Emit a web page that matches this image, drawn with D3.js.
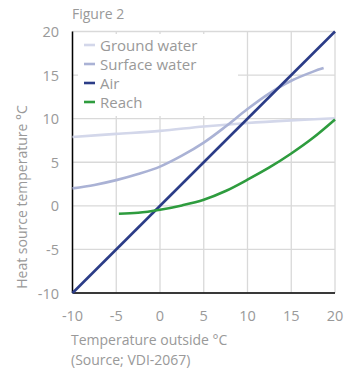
<!DOCTYPE html>
<meta charset="utf-8">
<script src="https://d3js.org/d3.v7.min.js"></script>
<style>
  body { margin: 0; background: #fff; }
  text { font-family: "Open Sans", sans-serif; fill: #999; }
</style>
<div id="chart"></div>
<script>
// data
const xTicks = [-10, -5, 0, 5, 10, 15, 20];
const yTicks = [-10, -5, 0, 5, 10, 15, 20];

const groundWater = [[-10, 7.9], [-5, 8.25], [0, 8.6], [5, 9.1], [10, 9.5], [15, 9.8], [20, 10.05]];
const surfaceWater = [[-10, 2.0], [-7.5, 2.4], [-5, 2.95], [-2.5, 3.65], [0, 4.5], [2.5, 5.75], [5, 7.25],
                      [7.5, 9.1], [10, 11.1], [12.5, 12.9], [15, 14.35], [17.5, 15.4], [18.7, 15.8]];
const air = [[-10, -10], [20, 20]];
const reach = [[-4.7, -0.9], [-2.5, -0.8], [0, -0.45], [2.5, 0.05], [5, 0.7], [7.5, 1.7], [10, 3.0],
               [12.5, 4.4], [15, 6.0], [17.5, 7.8], [20, 9.9]];

const series = [
  {name: "Ground water", values: groundWater, color: "#d3d7ea"},
  {name: "Surface water", values: surfaceWater, color: "#aab2d5"},
  {name: "Air", values: air, color: "#2b3c87"},
  {name: "Reach", values: reach, color: "#2e9c3e"}
];

const W = 357, H = 369;
const svg = d3.select("#chart").append("svg")
  .attr("width", W).attr("height", H);

const x = d3.scaleLinear().domain([-10, 20]).range([72.5, 335]);
const y = d3.scaleLinear().domain([-10, 20]).range([293, 31.5]);

// grid
svg.append("g").selectAll("line").data(xTicks).join("line")
  .attr("x1", d => x(d)).attr("x2", d => x(d))
  .attr("y1", y(20)).attr("y2", y(-10))
  .attr("stroke", "#d9d9d9").attr("stroke-width", 1.3);
svg.append("g").selectAll("line").data(yTicks).join("line")
  .attr("x1", x(-10)).attr("x2", x(20))
  .attr("y1", d => y(d)).attr("y2", d => y(d))
  .attr("stroke", "#d9d9d9").attr("stroke-width", 1.3);

// legend background hides the grid
svg.append("rect")
  .attr("x", 78).attr("y", 34).attr("width", 160).attr("height", 82)
  .attr("fill", "#fff");

// axes lines
svg.append("line")
  .attr("x1", x(-10)).attr("x2", x(-10)).attr("y1", y(20)).attr("y2", y(-10))
  .attr("stroke", "#000").attr("stroke-width", 1.5);
svg.append("line")
  .attr("x1", x(-10)).attr("x2", x(20)).attr("y1", y(-10)).attr("y2", y(-10))
  .attr("stroke", "#000").attr("stroke-width", 1.5);

// tick labels
svg.append("g").selectAll("text").data(yTicks).join("text")
  .attr("x", 59).attr("y", d => y(d))
  .attr("text-anchor", "end").attr("dominant-baseline", "central")
  .style("font-size", "14.5px")
  .text(d => d);
svg.append("g").selectAll("text").data(xTicks).join("text")
  .attr("x", d => x(d)).attr("y", 315)
  .attr("text-anchor", "middle").attr("dominant-baseline", "central")
  .style("font-size", "14.5px")
  .text(d => d);

// lines
const line = d3.line()
  .x(d => x(d[0])).y(d => y(d[1]))
  .curve(d3.curveCatmullRom);

svg.append("g").selectAll("path").data(series).join("path")
  .attr("d", d => line(d.values))
  .attr("fill", "none")
  .attr("stroke", d => d.color)
  .attr("stroke-width", 2.6);

// legend
const lg = svg.append("g").selectAll("g").data(series).join("g")
  .attr("transform", (d, i) => `translate(84, ${45 + i * 19})`);
lg.append("line")
  .attr("x1", 0).attr("x2", 11).attr("y1", 0).attr("y2", 0)
  .attr("stroke", d => d.color).attr("stroke-width", 2.6);
lg.append("text")
  .attr("x", 16).attr("y", 0)
  .attr("dominant-baseline", "central")
  .style("font-size", "15px")
  .text(d => d.name);

// titles
svg.append("text")
  .attr("x", 72).attr("y", 19)
  .style("font-size", "14px")
  .text("Figure 2");

svg.append("text")
  .attr("x", 71).attr("y", 345)
  .style("font-size", "14px")
  .text("Temperature outside °C");
svg.append("text")
  .attr("x", 71).attr("y", 365)
  .style("font-size", "14px")
  .text("(Source; VDI-2067)");

svg.append("text")
  .attr("transform", "translate(27, 197) rotate(-90)")
  .attr("text-anchor", "middle")
  .style("font-size", "14px")
  .text("Heat source temperature °C");
</script>
